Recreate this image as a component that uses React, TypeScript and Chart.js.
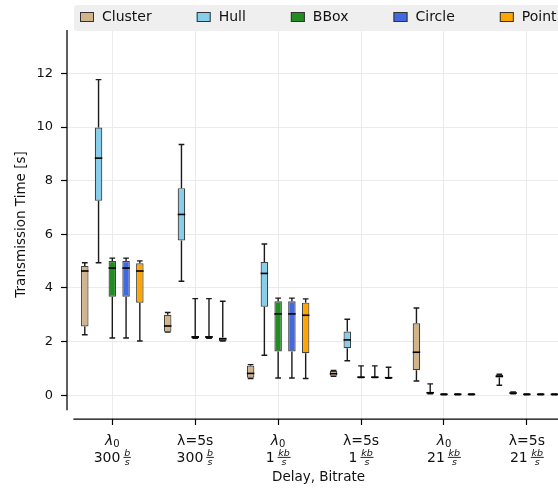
import React, { useEffect, useRef } from 'react';
import { Chart, registerables } from 'chart.js';

Chart.register(...registerables);

// x-axis categories
const delayLabels = ['λ₀', 'λ=5s', 'λ₀', 'λ=5s', 'λ₀', 'λ=5s'];
const bitrateValues = ['300', '300', '1', '1', '21', '21'];
const bitrateUnits = ['b', 'b', 'kb', 'kb', 'kb', 'kb'];
const bitrateDenominator = 's';

const seriesNames = ['Cluster', 'Hull', 'BBox', 'Circle', 'Point'];
const seriesColors = ['#d2b48c', '#87ceeb', '#228b22', '#4169e1', '#ffa500'];

// box statistics per category: [whiskerLow, q1, median, q3, whiskerHigh]
const cluster = [
  [2.25, 2.56, 4.63, 4.82, 4.94],
  [2.35, 2.36, 2.58, 3.0, 3.08],
  [0.62, 0.65, 0.81, 1.1, 1.14],
  [0.7, 0.72, 0.8, 0.9, 0.92],
  [0.53, 0.93, 1.6, 2.68, 3.25],
  [0.37, 0.66, 0.7, 0.75, 0.78],
];
const hull = [
  [4.94, 7.25, 8.84, 9.98, 11.77],
  [4.25, 5.77, 6.74, 7.72, 9.35],
  [1.49, 3.3, 4.54, 4.97, 5.64],
  [1.28, 1.75, 2.06, 2.37, 2.83],
  [0.05, 0.06, 0.09, 0.12, 0.42],
  [0.05, 0.06, 0.08, 0.1, 0.12],
];
const bbox = [
  [2.13, 3.67, 4.74, 5.0, 5.11],
  [2.12, 2.12, 2.17, 2.21, 3.6],
  [0.64, 1.63, 3.03, 3.5, 3.62],
  [0.66, 0.66, 0.67, 0.69, 1.09],
  [0.01, 0.02, 0.03, 0.04, 0.04],
  [0.01, 0.02, 0.03, 0.04, 0.04],
];
const circle = [
  [2.13, 3.67, 4.74, 5.0, 5.11],
  [2.12, 2.12, 2.17, 2.21, 3.6],
  [0.64, 1.63, 3.03, 3.5, 3.62],
  [0.66, 0.66, 0.67, 0.69, 1.09],
  [0.01, 0.02, 0.03, 0.04, 0.04],
  [0.01, 0.02, 0.03, 0.04, 0.04],
];
const point = [
  [2.02, 3.45, 4.63, 4.92, 5.01],
  [2.02, 2.02, 2.1, 2.15, 3.5],
  [0.62, 1.56, 2.98, 3.45, 3.59],
  [0.63, 0.63, 0.65, 0.67, 1.04],
  [0.01, 0.02, 0.03, 0.04, 0.04],
  [0.01, 0.02, 0.03, 0.04, 0.04],
];
const allSeries = [cluster, hull, bbox, circle, point];

const yTickStep = 2;
const yAxisTitle = 'Transmission Time [s]';
const xAxisTitle = 'Delay, Bitrate';

const FONT = '"DejaVu Sans", sans-serif';

const boxPlugin = {
  id: 'boxWhiskers',
  afterDatasetsDraw(chart: any) {
    const ctx = chart.ctx;
    const y = chart.scales.y;
    ctx.save();
    allSeries.forEach((series, d) => {
      const meta = chart.getDatasetMeta(d);
      meta.data.forEach((bar: any, i: number) => {
        const s = series[i];
        const x = bar.x;
        const w = bar.width;
        const capHalf = w * 0.38;
        const pLo = y.getPixelForValue(s[0]);
        const pQ1 = y.getPixelForValue(s[1]);
        const pMed = y.getPixelForValue(s[2]);
        const pQ3 = y.getPixelForValue(s[3]);
        const pHi = y.getPixelForValue(s[4]);
        ctx.strokeStyle = '#1a1a1a';
        ctx.lineWidth = 1.4;
        ctx.beginPath();
        ctx.moveTo(x, pQ3);
        ctx.lineTo(x, pHi);
        ctx.moveTo(x, pQ1);
        ctx.lineTo(x, pLo);
        ctx.moveTo(x - capHalf, pHi);
        ctx.lineTo(x + capHalf, pHi);
        ctx.moveTo(x - capHalf, pLo);
        ctx.lineTo(x + capHalf, pLo);
        ctx.stroke();
        ctx.strokeStyle = '#000';
        ctx.lineWidth = 1.6;
        ctx.beginPath();
        ctx.moveTo(x - w / 2, pMed);
        ctx.lineTo(x + w / 2, pMed);
        ctx.stroke();
      });
    });
    ctx.restore();
  },
};

const decorPlugin = {
  id: 'decor',
  afterDraw(chart: any) {
    const ctx = chart.ctx;
    const xs = chart.scales.x;
    const ys = chart.scales.y;
    const area = chart.chartArea;
    ctx.save();

    // spines (offset style)
    ctx.strokeStyle = '#000';
    ctx.lineWidth = 1.25;
    ctx.beginPath();
    ctx.moveTo(area.left, area.top);
    ctx.lineTo(area.left, ys.getPixelForValue(-0.56));
    ctx.moveTo(xs.getPixelForValue(-0.47), area.bottom);
    ctx.lineTo(area.right, area.bottom);
    ctx.stroke();

    // x tick labels
    ctx.fillStyle = '#111';
    ctx.textBaseline = 'alphabetic';
    for (let i = 0; i < delayLabels.length; i++) {
      const cx = xs.getPixelForValue(i);
      const d = delayLabels[i];
      if (d.endsWith('₀')) {
        const base = d.slice(0, -1);
        ctx.font = `italic 14px ${FONT}`;
        const w1 = ctx.measureText(base).width;
        ctx.font = `10px ${FONT}`;
        const w2 = ctx.measureText('0').width;
        const start = cx - (w1 + w2) / 2;
        ctx.textAlign = 'left';
        ctx.font = `italic 14px ${FONT}`;
        ctx.fillText(base, start, 445);
        ctx.font = `10px ${FONT}`;
        ctx.fillText('0', start + w1, 447);
      } else {
        ctx.textAlign = 'center';
        ctx.font = `14px ${FONT}`;
        ctx.fillText(d, cx, 445);
      }
      // bitrate with stacked fraction
      ctx.font = `14px ${FONT}`;
      const num = bitrateValues[i];
      const wN = ctx.measureText(num).width;
      ctx.font = `italic 9.5px ${FONT}`;
      const wU = ctx.measureText(bitrateUnits[i]).width;
      const wD = ctx.measureText(bitrateDenominator).width;
      const fw = Math.max(wU, wD) + 1.5;
      const gap = 3;
      const total = wN + gap + fw;
      const sx = cx - total / 2;
      ctx.textAlign = 'left';
      ctx.font = `14px ${FONT}`;
      ctx.fillText(num, sx, 462);
      const fx = sx + wN + gap;
      ctx.font = `italic 9.5px ${FONT}`;
      ctx.textAlign = 'center';
      ctx.fillText(bitrateUnits[i], fx + fw / 2, 455.5);
      ctx.fillText(bitrateDenominator, fx + fw / 2, 464.5);
      ctx.fillRect(fx, 456.9, fw, 0.9);
    }

    // legend
    ctx.fillStyle = '#efefef';
    ctx.beginPath();
    const lx = 74, ly = 5, lw = 520, lh = 26, r = 3;
    ctx.moveTo(lx + r, ly);
    ctx.lineTo(lx + lw - r, ly);
    ctx.arcTo(lx + lw, ly, lx + lw, ly + r, r);
    ctx.lineTo(lx + lw, ly + lh - r);
    ctx.arcTo(lx + lw, ly + lh, lx + lw - r, ly + lh, r);
    ctx.lineTo(lx + r, ly + lh);
    ctx.arcTo(lx, ly + lh, lx, ly + lh - r, r);
    ctx.lineTo(lx, ly + r);
    ctx.arcTo(lx, ly, lx + r, ly, r);
    ctx.fill();
    let x = 80;
    ctx.font = `14px ${FONT}`;
    ctx.textBaseline = 'middle';
    ctx.textAlign = 'left';
    seriesNames.forEach((name, k) => {
      ctx.fillStyle = seriesColors[k];
      ctx.fillRect(x, 12, 14, 10);
      ctx.strokeStyle = '#333';
      ctx.lineWidth = 1;
      ctx.strokeRect(x + 0.5, 12.5, 13, 9);
      ctx.fillStyle = '#111';
      ctx.fillText(name, x + 22, 17.5);
      x += 22 + ctx.measureText(name).width + 45;
    });

    ctx.restore();
  },
};

export default function App() {
  const ref = useRef<HTMLCanvasElement>(null);
  useEffect(() => {
    if (!ref.current) return;
    const chart = new Chart(ref.current, {
      type: 'bar',
      data: {
        datasets: seriesNames.map((name, d) => ({
          label: name,
          data: allSeries[d].map((s, i) => ({ x: i, y: [s[1], s[3]] })),
          backgroundColor: seriesColors[d],
          borderColor: 'rgba(45,45,45,0.9)',
          borderWidth: 1.2,
          borderSkipped: false,
          categoryPercentage: 0.83,
          barPercentage: 0.545,
        })) as any,
      },
      options: {
        responsive: false,
        devicePixelRatio: 1,
        animation: false,
        layout: { padding: { top: 30, left: 0, right: 0, bottom: 0 } },
        plugins: {
          legend: { display: false },
          tooltip: { enabled: false },
        },
        scales: {
          x: {
            type: 'linear',
            offset: false,
            min: -0.5465,
            max: 5.52,
            afterFit: (s: any) => {
              s.height = 70;
            },
            border: { display: false },
            grid: {
              offset: false,
              color: '#ebebeb',
              lineWidth: 1,
              tickColor: '#000',
              tickLength: 6,
              tickWidth: 1.2,
            },
            ticks: {
              stepSize: 1,
              includeBounds: false,
              autoSkip: false,
              callback: () => '',
              font: { family: FONT, size: 13 },
            },
            title: {
              display: true,
              text: xAxisTitle,
              color: '#111',
              font: { family: FONT, size: 13.5 },
              padding: { top: 0, bottom: 3 },
            },
          },
          y: {
            type: 'linear',
            min: -0.89,
            max: 13.62,
            afterFit: (s: any) => {
              s.width = 67;
            },
            border: { display: false },
            grid: {
              color: '#ebebeb',
              lineWidth: 1,
              tickColor: '#000',
              tickLength: 6,
              tickWidth: 1.2,
            },
            ticks: {
              stepSize: yTickStep,
              includeBounds: false,
              padding: 8,
              color: '#111',
              font: { family: FONT, size: 13 },
            },
            title: {
              display: true,
              text: yAxisTitle,
              color: '#111',
              font: { family: FONT, size: 13.5 },
              padding: { top: 13.5, bottom: 0 },
            },
          },
        },
      } as any,
      plugins: [boxPlugin, decorPlugin],
    });
    return () => chart.destroy();
  }, []);
  return (
    <div
      style={{
        position: 'absolute',
        left: 0,
        top: 0,
        width: 558,
        height: 489,
        overflow: 'hidden',
        background: '#fff',
      }}
    >
      <canvas ref={ref} width={570} height={489} style={{ display: 'block' }} />
    </div>
  );
}
